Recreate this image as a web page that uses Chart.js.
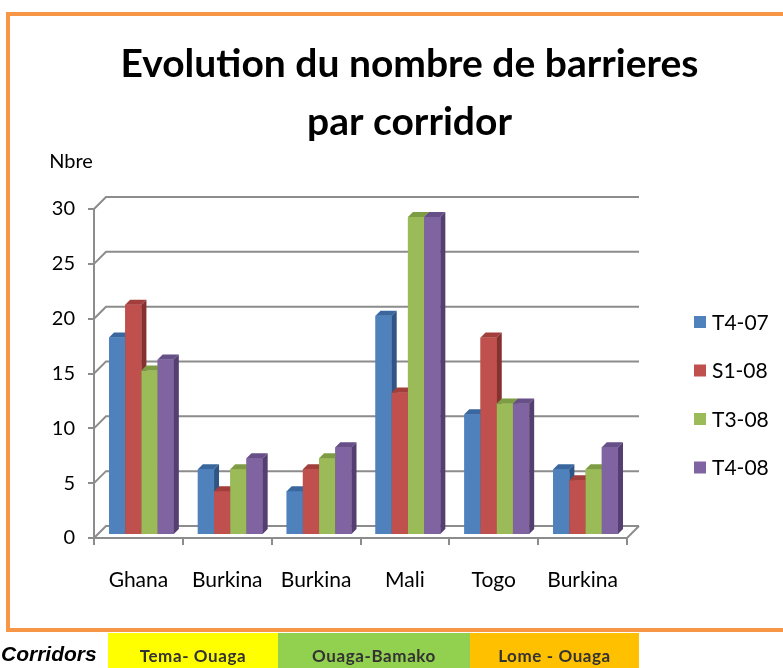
<!DOCTYPE html>
<html>
<head>
<meta charset="utf-8">
<script src="https://cdn.jsdelivr.net/npm/chart.js@4/dist/chart.umd.min.js"></script>
<style>
  body { margin: 0; background: #fff; width: 783px; height: 668px; overflow: hidden; position: relative; }
  #c { position: absolute; left: 0; top: 0; }
  #frame { position: absolute; left: 6px; top: 12px; width: 800px; height: 620px; box-sizing: border-box; border: 4px solid #F79646; }
  #strip { position: absolute; left: 0; top: 633px; height: 35px; width: 783px; }
  #strip .lbl { position: absolute; left: 1px; top: 9px; font: italic bold 21px "Liberation Sans", Arial, sans-serif; color: #000; }
  #strip .box { position: absolute; top: 0; height: 35px; font: bold 17px Lato, sans-serif; line-height: 46px; text-align: center; color: #333; letter-spacing: 0.6px; }
</style>
</head>
<body>
<canvas id="c" width="783" height="668"></canvas>
<div id="frame"></div>
<div id="strip"><span class="lbl">Corridors</span></div>
<script>
// data
const categories = ['Ghana', 'Burkina', 'Burkina', 'Mali', 'Togo', 'Burkina'];
const seriesNames = ['T4-07', 'S1-08', 'T3-08', 'T4-08'];
const t407 = [18, 6, 4, 20, 11, 6];
const s108 = [21, 4, 6, 13, 18, 5];
const t308 = [15, 6, 7, 29, 12, 6];
const t408 = [16, 7, 8, 29, 12, 8];
const corridors = ['Tema- Ouaga', 'Ouaga-Bamako', 'Lome - Ouaga'];

const fronts = ['#4F81BD', '#C0504D', '#9BBB59', '#8064A2'];
const tops   = ['#3A679E', '#A23E3B', '#7E9C44', '#674F88'];
const sides  = ['#2E5585', '#86312F', '#677F37', '#543F70'];

const DX = 12, DY = 12;   // depth of the back wall
const BD = 5;             // depth of each bar
const BOFF = 3;           // bars sit a little behind the front plane
const gridCol = '#8C8C8C';

// corridor boxes under the chart
const boxes = [[108, 170, '#FFFF00'], [278, 192, '#92D050'], [470, 169, '#FFC000']];
corridors.forEach(function (name, i) {
  var d = document.createElement('div');
  d.className = 'box';
  d.style.left = boxes[i][0] + 'px';
  d.style.width = boxes[i][1] + 'px';
  d.style.background = boxes[i][2];
  d.textContent = name;
  document.getElementById('strip').appendChild(d);
});

const wall = {
  id: 'wall',
  beforeDatasetsDraw(chart) {
    const ctx = chart.ctx, a = chart.chartArea, y = chart.scales.y;
    ctx.save();
    ctx.strokeStyle = gridCol;
    ctx.lineWidth = 2;
    y.ticks.forEach(function (t) {
      const py = y.getPixelForValue(t.value);
      ctx.beginPath();
      ctx.moveTo(a.left, py);
      ctx.lineTo(a.left + DX, py - DY);
      ctx.lineTo(a.right + DX, py - DY);
      ctx.stroke();
    });
    ctx.beginPath();
    ctx.moveTo(a.right, a.bottom);
    ctx.lineTo(a.right + DX, a.bottom - DY);
    ctx.stroke();
    ctx.restore();
    ctx.save();
    ctx.translate(BOFF, -BOFF);
  },
  afterDatasetsDraw(chart) {
    const ctx = chart.ctx;
    const metas = chart.data.datasets.map(function (d, i) { return chart.getDatasetMeta(i); });
    categories.forEach(function (c, i) {
      metas.forEach(function (m, j) {
        const p = m.data[i].getProps(['x', 'y', 'base', 'width'], true);
        const l = p.x - p.width / 2, r = p.x + p.width / 2;
        ctx.fillStyle = fronts[j];
        ctx.fillRect(l, p.y, p.width, p.base - p.y);
        ctx.fillStyle = tops[j];
        ctx.beginPath();
        ctx.moveTo(l, p.y); ctx.lineTo(l + BD, p.y - BD); ctx.lineTo(r + BD, p.y - BD); ctx.lineTo(r, p.y);
        ctx.closePath(); ctx.fill();
        ctx.fillStyle = sides[j];
        ctx.beginPath();
        ctx.moveTo(r, p.y); ctx.lineTo(r + BD, p.y - BD); ctx.lineTo(r + BD, p.base - BD); ctx.lineTo(r, p.base);
        ctx.closePath(); ctx.fill();
      });
    });
    ctx.restore();
  },
  afterDraw(chart) {
    const ctx = chart.ctx;
    ctx.save();
    ctx.fillStyle = '#000';
    ctx.font = '20px Lato';
    ctx.textAlign = 'center';
    ctx.textBaseline = 'middle';
    ctx.fillText('Nbre', 71, 162);
    ctx.font = '21px Lato';
    ctx.textAlign = 'left';
    seriesNames.forEach(function (n, i) {
      const yc = 322 + i * 48.5;
      ctx.fillStyle = fronts[i];
      ctx.fillRect(694, yc - 6, 12, 12);
      ctx.fillStyle = '#000';
      ctx.fillText(n, 712, yc + 1);
    });
    ctx.restore();
  }
};

const allSeries = [t407, s108, t308, t408];

new Chart(document.getElementById('c'), {
  type: 'bar',
  data: {
    labels: categories,
    datasets: allSeries.map(function (vals, i) {
      return { label: seriesNames[i], data: vals, backgroundColor: fronts[i],
               categoryPercentage: 0.73, barPercentage: 1 };
    })
  },
  options: {
    responsive: false,
    animation: false,
    devicePixelRatio: 1,
    layout: { padding: { left: 36, right: 0, top: 0, bottom: 0 } },
    plugins: {
      legend: { display: false },
      tooltip: { enabled: false },
      title: {
        display: true,
        text: ['Evolution du nombre de barrieres', 'par corridor'],
        color: '#000',
        font: { family: 'Lato', size: 39, weight: 'bold', lineHeight: 1.477 },
        padding: { top: 36, bottom: 57.8 }
      }
    },
    scales: {
      x: {
        grid: { offset: true, drawOnChartArea: false, tickLength: 7, color: gridCol, lineWidth: 2 },
        border: { display: true, color: gridCol, width: 2 },
        ticks: { color: '#000', font: { family: 'Lato', size: 21 }, padding: 23 },
        afterFit: function (s) { s.height = 130; }
      },
      y: {
        min: 0, max: 30,
        grid: { drawOnChartArea: false, tickLength: 6, color: gridCol, lineWidth: 2 },
        border: { display: true, color: gridCol, width: 2 },
        ticks: { stepSize: 5, color: '#000', font: { family: 'Lato', size: 20 }, padding: 13 },
        afterFit: function (s) { s.width = 58; }
      },
      yR: {
        position: 'right',
        grid: { display: false },
        border: { display: false },
        ticks: { display: false },
        afterFit: function (s) { s.width = 156; }
      }
    }
  },
  plugins: [wall]
});
</script>
</body>
</html>
